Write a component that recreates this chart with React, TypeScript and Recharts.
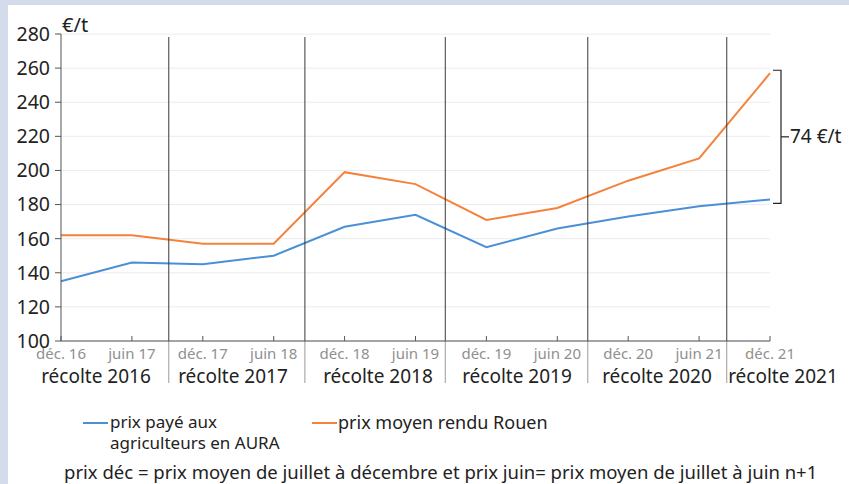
import React from 'react';
import { LineChart, Line, XAxis, YAxis, CartesianGrid, ReferenceLine } from 'recharts';

const periods = ['déc. 16', 'juin 17', 'déc. 17', 'juin 18', 'déc. 18', 'juin 19', 'déc. 19', 'juin 20', 'déc. 20', 'juin 21', 'déc. 21'];
const prixAura = [135, 146, 145, 150, 167, 174, 155, 166, 173, 179, 183];
const prixRouen = [162, 162, 157, 157, 199, 192, 171, 178, 194, 207, 257];
const harvests = ['récolte 2016', 'récolte 2017', 'récolte 2018', 'récolte 2019', 'récolte 2020', 'récolte 2021'];
const harvestCenters = [96, 233, 378, 517, 657, 783];
const separators = [1.52, 3.44, 5.42, 7.43, 9.39];
const yTicks = [100, 120, 140, 160, 180, 200, 220, 240, 260, 280];
const gapLabel = '74 €/t';

const data = periods.map((p, i) => ({ i, period: p, aura: prixAura[i], rouen: prixRouen[i] }));

const FONT = '"Noto Sans", sans-serif';

const PeriodTick = (props: any) => {
  const { x, y, payload } = props;
  return (
    <g>
      <line x1={x} y1={y - 7} x2={x} y2={y - 12} stroke="#555" />
      <text x={x} y={y} dy="0.7em" textAnchor="middle" fill="#909090" fontSize={15} fontFamily={FONT}>
        {periods[payload.value]}
      </text>
    </g>
  );
};

const SeparatorShape = (props: any) => {
  const { x1, y1, y2 } = props;
  const top = Math.min(y1, y2);
  const bottom = Math.max(y1, y2);
  return (
    <g>
      <line x1={x1} y1={top + 3} x2={x1} y2={bottom} stroke="#3a3a3a" strokeWidth={1} />
      <line x1={x1} y1={bottom} x2={x1} y2={bottom + 42} stroke="#9a9a9a" strokeWidth={1} />
    </g>
  );
};

const BracketShape = (props: any) => {
  const { x1, y1, y2 } = props;
  const top = Math.min(y1, y2) - 3;
  const bottom = Math.max(y1, y2) + 4;
  const bx = x1 + 11;
  const mid = (top + bottom) / 2;
  return (
    <g>
      <path d={`M ${bx - 8} ${top} H ${bx} V ${bottom} H ${bx - 8}`} fill="none" stroke="#222" strokeWidth={1.2} />
      <line x1={bx} y1={mid} x2={bx + 8} y2={mid} stroke="#222" strokeWidth={1.2} />
      <text x={bx + 9} y={mid} dy="0.35em" fill="#222" fontSize={19} fontFamily={FONT}>
        {gapLabel}
      </text>
    </g>
  );
};

export default function App() {
  return (
    <div style={{ position: 'relative', width: 849, height: 484, background: '#d4dbeb', fontFamily: FONT, overflow: 'hidden' }}>
      <style>{`body{margin:0}`}</style>
      <div style={{ position: 'absolute', left: 8, top: 5, right: 0, bottom: 0, background: '#fff' }} />
      <div style={{ position: 'absolute', left: 62, top: 11, fontSize: 20, color: '#222' }}>€/t</div>
      <div style={{ position: 'absolute', left: 0, top: 0 }}>
        <LineChart width={849} height={400} data={data} margin={{ top: 34, right: 79, left: 0, bottom: 34 }}>
          <CartesianGrid vertical={false} stroke="#ececec" />
          <XAxis
            type="number"
            dataKey="i"
            domain={[0, 10]}
            ticks={data.map((d) => d.i)}
            interval={0}
            height={25}
            tickLine={false}
            tickSize={0}
            tickMargin={7}
            axisLine={{ stroke: '#555' }}
            tick={<PeriodTick />}
          />
          <YAxis
            domain={[100, 280]}
            ticks={yTicks}
            interval={0}
            width={61}
            tickSize={6}
            tickMargin={5}
            axisLine={{ stroke: '#555' }}
            tickLine={{ stroke: '#555' }}
            tick={{ fill: '#222', fontSize: 19.5, fontFamily: FONT }}
          />
          <Line type="linear" dataKey="aura" stroke="#4a90d6" strokeWidth={2} dot={false} isAnimationActive={false} />
          <Line type="linear" dataKey="rouen" stroke="#f4823c" strokeWidth={2} dot={false} isAnimationActive={false} />
          {separators.map((s) => (
            <ReferenceLine key={s} x={s} ifOverflow="visible" shape={<SeparatorShape />} />
          ))}
          <ReferenceLine
            segment={[{ x: 10, y: prixRouen[10] }, { x: 10, y: prixAura[10] }]}
            ifOverflow="visible"
            shape={<BracketShape />}
          />
        </LineChart>
      </div>
      {harvests.map((h, k) => (
        <div
          key={h}
          style={{ position: 'absolute', left: harvestCenters[k] - 70, width: 140, top: 366, textAlign: 'center', fontSize: 19, lineHeight: '20px', color: '#222', whiteSpace: 'nowrap' }}
        >
          {h}
        </div>
      ))}
      <div style={{ position: 'absolute', left: 83, top: 422, width: 25, height: 2, background: '#4a90d6' }} />
      <div style={{ position: 'absolute', left: 110, top: 413, fontSize: 17, lineHeight: '18px', color: '#222', whiteSpace: 'nowrap' }}>
        prix payé aux
      </div>
      <div style={{ position: 'absolute', left: 110, top: 434, fontSize: 17, lineHeight: '18px', color: '#222', whiteSpace: 'nowrap' }}>
        agriculteurs en AURA
      </div>
      <div style={{ position: 'absolute', left: 312, top: 422, width: 25, height: 2, background: '#f4823c' }} />
      <div style={{ position: 'absolute', left: 338, top: 413, fontSize: 18, lineHeight: '18px', color: '#222', whiteSpace: 'nowrap' }}>
        prix moyen rendu Rouen
      </div>
      <div style={{ position: 'absolute', left: 64, top: 462, fontSize: 18.5, lineHeight: '20px', color: '#222', whiteSpace: 'nowrap' }}>
        prix déc = prix moyen de juillet à décembre et prix juin= prix moyen de juillet à juin n+1
      </div>
    </div>
  );
}
